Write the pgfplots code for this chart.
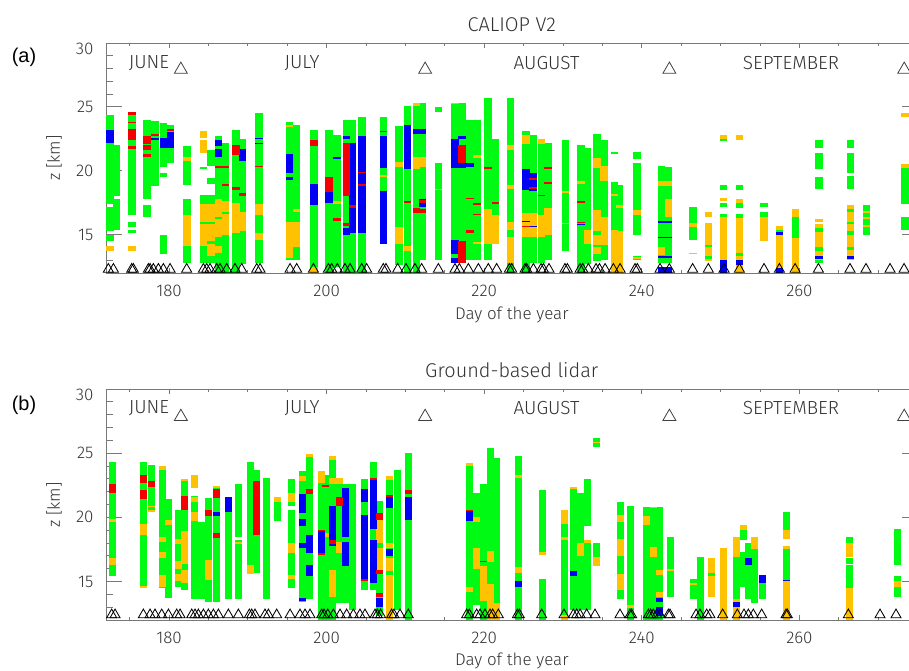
\documentclass[border=0pt]{standalone}
\usepackage{fontspec}
\setmainfont{Fira Sans Light}
\newfontfamily\arialfont{Liberation Sans}
\usepackage{pgfplots}
\usepackage{pgfplotstable}
\pgfplotsset{compat=1.18}
\definecolor{cg}{RGB}{0,250,20}
\definecolor{co}{RGB}{255,194,0}
\definecolor{cb}{RGB}{0,0,245}
\definecolor{cr}{RGB}{245,0,0}
\definecolor{axc}{RGB}{120,120,120}

% ---------------- panel (a) ----------------
\pgfplotstableread{
x y0 y1
172.5 17.4 24.4
172.5 15.3 17.2
172.5 14.5 15.0
173.3 18.0 22.0
173.3 15.4 17.8
175.3 16.5 24.6
175.3 15.6 16.0
175.3 15.1 15.4
177.2 17.8 24.0
177.2 16.4 17.3
178.2 18.8 23.9
179.3 20.3 23.7
179.3 19.5 19.8
179.3 13.5 15.0
180.2 20.6 23.6
182.3 18.9 21.9
182.3 12.8 17.8
184.4 20.1 20.3
184.4 12.8 18.1
185.3 20.4 21.6
185.3 19.0 19.4
185.3 12.8 18.1
186.3 12.0 22.7
187.2 12.0 22.2
188.5 12.0 23.2
189.3 12.7 22.5
191.4 12.8 24.5
195.3 13.0 23.8
196.2 13.0 23.6
198.4 12.5 23.2
200.3 12.0 23.2
201.3 12.5 22.8
202.5 12.0 24.0
203.3 12.0 24.0
204.5 12.0 24.2
207.2 14.3 24.2
209.2 12.6 23.5
210.3 12.0 25.1
211.4 12.0 25.3
212.2 13.0 25.3
214.2 24.6 25.0
214.2 13.0 20.6
216.3 12.8 25.3
217.2 12.8 25.3
218.2 13.0 24.0
219.1 13.0 24.0
220.5 13.0 25.7
221.4 14.3 22.5
223.3 12.0 25.7
225.3 12.0 23.1
226.2 12.8 22.8
227.3 12.8 22.5
228.1 13.0 22.2
230.3 13.7 22.4
232.3 12.0 22.0
233.1 12.7 21.8
234.3 12.9 22.9
235.2 13.0 22.4
236.5 12.8 19.1
236.5 21.3 21.5
237.2 12.8 18.9
239.4 15.0 20.6
239.4 20.9 21.5
239.4 13.0 13.3
242.5 12.8 20.4
243.4 12.8 20.3
246.5 14.6 17.2
250.4 22.3 22.5
250.4 18.5 18.9
250.4 16.4 16.6
250.4 17.2 17.5
252.4 18.5 18.9
252.4 17.1 17.5
252.4 16.3 16.6
255.5 17.2 17.5
255.5 16.4 16.8
262.5 21.8 22.4
262.5 20.1 21.4
262.5 18.6 19.5
266.5 21.8 22.4
266.5 19.8 21.4
266.5 18.6 19.6
268.5 15.0 17.3
273.4 17.4 20.2
273.4 15.4 16.4
}\agreen
\pgfplotstableread{
x y0 y1
172.5 13.7 14.1
175.3 13.7 14.1
182.3 20.8 21.1
182.3 14.1 16.5
184.4 22.6 23.1
184.4 21.4 22.4
184.4 14.1 17.4
185.3 13.3 17.4
186.3 14.8 17.8
186.3 13.6 14.1
187.2 15.0 17.6
188.5 15.1 17.5
189.3 15.3 16.8
191.4 16.5 17.4
191.4 14.6 15.1
195.3 23.4 23.6
195.3 13.2 16.0
196.2 14.0 16.0
196.2 16.8 17.0
198.4 12.0 12.5
200.3 17.8 17.9
201.3 17.4 17.6
207.2 19.5 19.7
207.2 15.4 16.2
209.2 20.3 20.7
209.2 14.3 15.6
210.3 13.7 14.1
211.4 25.1 25.3
211.4 20.1 21.1
212.2 20.3 21.1
214.2 18.5 18.6
216.3 25.2 25.3
219.1 21.0 21.2
219.1 14.3 14.4
220.5 14.3 17.0
221.4 14.3 16.5
223.3 21.6 22.0
223.3 18.6 18.9
223.3 15.4 16.0
223.3 12.8 14.8
225.3 22.1 22.8
225.3 14.8 16.7
226.2 14.8 16.7
227.3 22.1 22.5
227.3 14.8 16.5
228.1 15.0 17.1
230.3 18.25 18.4
230.3 15.8 15.95
232.3 19.0 19.2
233.1 14.3 15.4
234.3 20.2 21.0
234.3 13.5 16.9
235.2 19.2 20.4
235.2 14.2 16.4
236.5 18.0 18.2
236.5 12.0 15.4
237.2 17.1 17.3
237.2 12.0 15.3
239.4 16.5 16.9
239.4 13.1 13.25
242.5 18.8 19.2
242.5 13.4 14.0
243.4 18.8 19.2
243.4 16.4 17.8
246.5 15.6 15.9
246.5 13.5 13.6
248.5 16.4 16.8
248.5 12.9 15.9
250.4 22.5 22.8
250.4 17.6 17.9
250.4 12.0 16.4
252.4 22.4 22.8
252.4 17.5 17.8
252.4 12.0 16.3
255.5 14.5 16.4
257.5 12.0 15.7
259.5 12.0 17.0
262.5 16.0 16.2
262.5 12.8 15.8
266.5 13.0 17.3
268.5 16.7 16.85
268.5 16.2 16.35
268.5 15.6 15.75
273.4 24.2 24.5
273.4 20.2 20.5
}\aorange
\pgfplotstableread{
x y0 y1
184.4 15.8 16.0
184.4 13.3 13.6
185.3 15.8 16.0
185.3 14.3 14.5
185.3 12.8 13.2
186.3 16.2 16.4
187.2 16.6 16.8
234.3 15.0 15.3
234.3 14.0 14.2
248.5 14.0 14.2
248.5 13.1 13.3
252.4 13.3 13.6
257.5 15.2 15.4
259.5 14.7 16.4
262.5 15.2 15.5
262.5 13.7 14.0
262.5 12.8 13.0
266.5 16.8 17.0
266.5 15.8 16.0
266.5 15.0 15.3
266.5 13.8 14.0
}\agreentwo
\pgfplotstableread{
x y0 y1
172.5 22.2 23.2
178.2 22.4 22.6
179.3 21.8 22.6
180.2 21.8 23.0
186.3 21.9 22.4
186.3 21.1 21.7
189.3 20.8 21.7
191.4 22.5 22.6
191.4 22.1 22.2
195.3 19.8 21.3
195.3 19.3 19.5
198.4 17.3 19.0
200.3 17.5 18.3
201.3 20.9 21.1
202.5 22.5 22.7
202.5 15.0 15.5
203.3 15.1 22.2
204.5 15.1 22.7
207.2 20.2 22.7
207.2 14.3 18.4
210.3 20.1 23.6
211.4 22.9 23.3
212.2 22.9 23.3
212.2 17.2 17.8
216.3 20.2 22.5
216.3 13.5 14.6
216.3 12.8 13.2
217.2 20.2 20.6
217.2 22.5 22.7
218.2 20.3 20.6
225.3 18.5 20.1
225.3 16.0 16.1
226.2 18.4 19.8
226.2 15.6 15.7
232.3 15.75 15.85
242.5 15.9 16.05
242.5 14.7 14.85
242.5 13.2 13.35
242.5 12.0 12.5
243.4 15.9 16.05
243.4 14.7 14.85
243.4 13.2 13.35
243.4 12.0 12.5
250.4 12.0 13.0
252.4 12.6 13.0
257.5 15.0 15.2
257.5 12.0 12.4
262.5 13.1 13.3
266.5 13.1 13.3
}\ablue
\pgfplotstableread{
x y0 y1
175.3 24.4 24.6
175.3 23.7 23.8
175.3 22.4 23.3
175.3 21.7 21.9
177.2 22.1 22.7
177.2 21.6 22.0
177.2 21.1 21.3
178.2 22.7 22.9
180.2 23.1 23.3
186.3 20.2 20.4
187.2 20.2 20.4
187.2 18.8 19.0
188.5 21.2 22.0
188.5 18.5 18.7
189.3 18.05 18.25
191.4 20.3 20.4
198.4 21.9 22.4
200.3 18.3 19.5
201.3 16.1 16.3
202.5 18.0 22.2
202.5 15.7 15.9
203.3 17.1 17.3
204.5 19.8 19.9
204.5 18.8 19.0
207.2 23.0 23.1
210.3 17.45 17.6
211.4 16.7 17.1
212.2 17.45 17.7
212.2 16.7 17.0
217.2 20.6 22.0
217.2 12.8 14.5
218.2 17.8 17.9
218.2 15.1 15.4
219.1 17.35 17.5
219.1 16.5 16.6
220.5 20.1 20.3
221.4 17.4 17.55
225.3 15.6 15.7
226.2 19.3 19.4
226.2 18.6 18.7
227.3 18.0 18.1
228.1 20.15 20.3
228.1 18.95 19.1
232.3 17.5 17.65
232.3 15.9 16.0
}\ared
\pgfplotstableread{
x y
172.30 12.29
172.94 12.29
175.26 12.29
175.47 12.29
177.38 12.29
177.59 12.29
178.01 12.29
178.65 12.29
179.28 12.29
180.13 12.29
182.24 12.29
184.36 12.29
184.78 12.29
185.20 12.29
186.05 12.29
186.47 12.29
187.32 12.29
188.37 12.29
189.22 12.29
191.13 12.29
191.55 12.29
195.36 12.29
196.20 12.29
198.32 12.29
200.22 12.29
200.64 12.29
201.36 12.29
202.33 12.29
202.97 12.29
204.45 12.29
205.08 12.29
207.19 12.29
207.53 12.29
209.02 12.29
210.07 12.29
211.21 12.29
212.06 12.29
214.18 12.29
216.29 12.29
216.84 12.29
217.99 12.29
219.26 12.29
220.52 12.29
221.58 12.29
223.19 12.29
223.49 12.29
225.18 12.29
225.39 12.29
226.24 12.29
227.21 12.29
227.51 12.29
228.22 12.29
230.25 12.29
230.55 12.29
232.16 12.29
232.50 12.29
233.22 12.29
234.19 12.29
234.62 12.29
235.34 12.29
236.39 12.29
237.24 12.29
239.14 12.29
239.43 12.29
242.31 12.29
243.49 12.29
246.45 12.29
248.44 12.29
250.43 12.29
252.38 12.29
255.51 12.29
257.46 12.29
259.45 12.29
262.41 12.29
266.42 12.29
268.45 12.29
271.50 12.29
273.28 12.29
}\atri

% ---------------- panel (b) ----------------
\pgfplotstableread{
x y0 y1
172.85 15.4 24.3
176.8 14.5 24.3
177.8 20.6 24.1
179.15 14.5 24.0
179.95 13.7 21.4
181.2 14.6 20.6
182.0 14.3 23.0
183.2 13.6 21.7
184.15 13.6 19.6
185.0 13.4 21.5
186.0 13.4 22.4
187.5 13.6 21.6
188.8 18.5 22.6
188.8 13.6 18.2
190.3 15.6 24.3
191.1 15.7 23.7
192.35 13.6 23.1
193.8 19.7 21.2
195.5 20.9 23.0
195.5 14.5 20.6
196.9 13.4 23.6
197.8 13.6 24.9
199.3 12.0 23.6
199.9 12.0 23.3
200.8 12.0 24.8
201.6 13.3 23.1
202.4 13.3 22.6
203.3 12.8 22.6
204.8 14.3 23.0
206.0 14.3 24.3
206.7 12.3 21.3
208.0 12.8 23.2
209.0 12.8 23.7
210.4 12.0 25.0
218.15 12.0 24.2
219.0 13.2 21.9
219.85 12.0 22.6
220.75 13.3 25.4
221.6 12.0 24.6
224.3 12.0 24.8
227.4 17.2 22.1
227.4 12.0 15.2
230.2 12.4 19.5
231.3 12.8 22.4
232.2 12.8 21.9
233.1 19.3 23.0
233.1 12.8 18.2
234.2 25.45 26.2
234.2 16.9 18.0
237.25 13.6 21.2
238.6 12.0 20.9
240.6 12.0 20.8
241.5 12.0 20.8
242.3 12.0 20.8
243.6 13.8 18.5
246.5 13.6 15.2
247.4 12.0 16.9
252.9 18.2 19.1
252.9 14.6 17.3
253.5 13.6 18.0
254.3 13.3 17.5
255.3 13.6 14.9
258.4 19.0 20.4
266.3 18.0 18.5
266.3 16.4 16.8
266.3 14.5 16.3
272.4 16.3 19.1
272.4 15.0 15.4
272.4 13.8 14.6
}\bgreen
\pgfplotstableread{
x y0 y1
172.85 19.6 19.9
172.85 16.3 16.8
176.8 18.6 19.5
176.8 14.5 14.65
177.8 20.4 20.6
177.8 20.8 20.9
179.15 23.7 24.0
179.15 18.1 18.5
179.15 16.8 17.3
179.15 14.6 15.5
179.95 19.4 19.8
181.2 17.9 18.3
181.2 16.0 16.6
181.2 15.0 15.6
182.0 22.8 22.95
182.0 16.4 18.9
182.0 14.9 15.9
183.2 22.3 23.3
183.2 21.2 21.6
183.2 19.7 20.4
185.0 15.1 16.7
186.0 22.3 22.45
188.8 17.9 18.1
190.3 15.6 16.3
193.8 21.2 21.6
195.5 21.2 21.9
195.5 17.2 18.0
195.5 15.2 15.5
196.9 22.8 23.2
197.8 24.7 24.9
199.3 22.7 23.6
199.9 18.5 18.75
200.8 24.5 24.8
200.8 22.6 23.1
200.8 13.8 15.9
201.6 22.6 23.1
201.6 17.2 18.1
206.7 18.0 19.8
206.7 15.9 17.6
208.0 22.9 23.2
208.0 17.6 18.0
208.0 15.8 16.8
208.0 12.0 15.5
218.15 24.0 24.2
218.15 14.2 14.6
219.0 16.0 17.6
219.0 19.6 20.0
219.85 13.5 16.2
220.75 12.0 14.8
220.75 16.5 17.4
221.6 12.0 13.3
224.3 23.1 23.3
224.3 15.7 16.1
227.4 17.1 17.3
230.2 19.5 20.6
230.2 18.2 18.5
230.2 12.0 12.4
231.3 22.2 22.4
232.2 17.0 18.0
233.1 18.0 18.2
234.2 25.8 25.9
234.2 16.2 16.9
237.25 19.6 20.2
237.25 17.0 18.3
237.25 14.3 15.6
238.6 12.9 13.2
240.6 19.4 20.1
241.5 20.7 20.8
241.5 16.9 17.7
242.3 15.5 15.9
242.3 13.8 14.2
243.6 15.8 16.0
246.5 14.7 14.9
248.8 13.8 16.8
250.4 12.0 17.6
252.0 12.0 18.5
252.9 19.0 19.4
254.3 17.5 18.5
258.4 18.3 19.0
258.4 12.0 17.8
266.3 16.9 18.0
266.3 12.0 14.5
272.4 14.6 15.0
}\borange
\pgfplotstableread{
x y0 y1
248.8 15.4 15.7
252.0 13.6 16.9
258.4 15.1 17.5
}\bgreentwo
\pgfplotstableread{
x y0 y1
186.0 20.1 20.4
187.5 20.4 21.6
196.9 20.3 21.8
196.9 19.3 19.9
196.9 17.6 18.0
196.9 13.5 13.7
197.8 17.2 18.6
197.8 15.4 16.3
199.3 17.2 18.9
200.8 17.8 20.9
202.4 18.5 22.3
202.4 16.2 18.1
204.8 21.2 22.2
204.8 15.1 20.2
206.0 19.1 22.9
206.0 14.9 18.2
206.7 13.0 13.7
208.0 20.7 21.6
208.0 17.0 17.5
210.4 19.8 21.6
218.15 19.7 20.5
224.3 14.6 15.0
231.3 15.4 15.8
242.3 13.4 13.7
242.3 12.3 13.0
252.0 13.0 13.4
253.5 16.3 16.8
255.3 14.9 15.5
258.4 15.05 15.15
}\bblue
\pgfplotstableread{
x y0 y1
172.85 21.9 22.6
176.8 22.7 23.3
176.8 21.4 22.1
177.8 22.4 22.8
182.0 20.6 21.7
185.0 20.1 20.6
186.0 21.5 22.2
186.0 18.4 18.8
191.1 18.6 22.8
197.8 21.8 22.2
199.3 18.9 19.0
199.3 17.1 17.2
199.9 22.4 22.5
200.8 17.9 18.2
201.6 20.9 21.6
204.8 15.0 15.2
206.0 22.9 23.1
206.7 19.8 20.3
206.7 15.6 15.9
206.7 13.8 14.1
208.0 21.6 21.75
210.4 21.8 22.1
218.15 20.5 20.6
219.85 16.5 16.6
}\bred
\pgfplotstableread{
x y
172.72 12.4
173.15 12.4
176.74 12.4
177.59 12.4
178.22 12.4
179.07 12.4
179.92 12.4
180.97 12.4
181.40 12.4
182.88 12.4
183.30 12.4
183.72 12.4
184.36 12.4
184.99 12.4
185.63 12.4
186.26 12.4
187.53 12.4
188.80 12.4
190.19 12.4
190.49 12.4
190.91 12.4
192.18 12.4
192.61 12.4
193.66 12.4
195.36 12.4
196.62 12.4
197.26 12.4
197.89 12.4
199.37 12.4
199.67 12.4
200.14 12.4
200.85 12.4
201.70 12.4
202.54 12.4
203.39 12.4
204.23 12.4
204.87 12.4
206.14 12.4
206.43 12.4
206.85 12.4
208.25 12.4
208.54 12.4
209.31 12.4
210.36 12.4
217.77 12.4
218.11 12.4
219.04 12.4
219.47 12.4
220.10 12.4
220.74 12.4
221.07 12.4
221.79 12.4
224.21 12.4
224.46 12.4
227.29 12.4
230.13 12.4
231.31 12.4
231.73 12.4
232.16 12.4
233.00 12.4
234.06 12.4
237.23 12.4
238.50 12.4
238.71 12.4
240.83 12.4
241.12 12.4
241.46 12.4
241.89 12.4
242.31 12.4
243.37 12.4
243.58 12.4
246.88 12.4
247.38 12.4
248.23 12.4
248.65 12.4
250.26 12.4
252.12 12.4
252.97 12.4
253.52 12.4
254.15 12.4
255.21 12.4
258.30 12.4
258.47 12.4
266.21 12.4
270.23 12.4
272.26 12.4
}\btri

\pgfplotsset{
  seg/.style={line width=7.4bp, quiver={u=0, v=\thisrow{y1}-\thisrow{y0}}},
  segb/.style={line width=7.0bp, quiver={u=0, v=\thisrow{y1}-\thisrow{y0}}},
  frame/.style={
    scale only axis, width=811.6bp,
    xmin=172, xmax=275, ymin=12, ymax=30,
  },
  tickax/.style={
    frame, axis line style={draw=none},
    xtick={180,200,220,240,260}, minor xtick={175,185,190,195,205,210,215,225,230,235,245,250,255,265,270,275},
    xticklabels={}, ytick=\empty,
    tick align=inside, major tick length=5bp, minor tick length=3bp,
    tick style={axc, line width=0.8bp},
  },
  mainax/.style={
    frame,
    axis line style={axc, line width=0.8bp},
    xtick={180,200,220,240,260},
    ytick={15,20,25},
    extra y ticks={30},
    extra y tick style={yticklabel style={yshift=-6bp}},
    minor ytick={13,14,16,17,18,19,21,22,23,24,26,27,28,29},
    tick align=inside, major tick length=16bp, minor tick length=7bp,
    tick style={axc, line width=0.8bp},
    every x tick/.style={draw=none},
    /pgf/number format/assume math mode=true,
    ticklabel style={font=\fontsize{17}{17}\selectfont, text=black!80},
    xticklabel style={yshift=-9bp},
    yticklabel style={xshift=-9bp},
  },
  monthtri/.style={only marks, mark=triangle, mark size=7.5bp, mark options={draw=black!75, line width=0.8bp, fill=none}},
  bottri/.style={only marks, mark=triangle, mark size=5.8bp, mark options={draw=black, line width=0.85bp, fill=none}},
}
\newcommand{\mlab}{\fontsize{19}{19}\selectfont\color{black!80}}
\newcommand{\tlab}{\fontsize{20}{20}\selectfont\color{black!80}}
\newcommand{\alab}{\fontsize{17}{17}\selectfont\color{black!80}}

\begin{document}
\begin{tikzpicture}
% ===== panel (a) =====
\begin{axis}[tickax, at={(106bp,398bp)}, anchor=south west, height=230bp]
\end{axis}
\begin{axis}[mainax, at={(106bp,398bp)}, anchor=south west, height=230bp]
\addplot[seg, draw=cg] table[x=x, y=y0] {\agreen};
\addplot[seg, draw=co] table[x=x, y=y0] {\aorange};
\addplot[seg, draw=cg] table[x=x, y=y0] {\agreentwo};
\addplot[seg, draw=cb] table[x=x, y=y0] {\ablue};
\addplot[seg, draw=cr] table[x=x, y=y0] {\ared};
\addplot[bottri] table[x=x, y=y] {\atri};
\addplot[monthtri] coordinates {(181.5,27.92) (212.5,27.92) (243.5,27.92) (273.3,27.92)};
\node[font=\mlab] at (axis cs:177.46,28.46) {JUNE};
\node[font=\mlab] at (axis cs:196.88,28.46) {JULY};
\node[font=\mlab] at (axis cs:227.91,28.46) {AUGUST};
\node[font=\mlab] at (axis cs:258.93,28.46) {SEPTEMBER};
\end{axis}
\node[anchor=base, font=\tlab] at (511.8bp, 639bp) {CALIOP V2};
\node[font=\alab] at (511.8bp, 356bp) {Day of the year};
\node[rotate=90, font=\alab] at (54bp, 513bp) {z [km]};
\node[font=\arialfont\fontsize{20}{20}\selectfont] at (24bp, 614bp) {(a)};

% ===== panel (b) =====
\begin{axis}[tickax, at={(106bp,51bp)}, anchor=south west, height=231bp]
\end{axis}
\begin{axis}[mainax, at={(106bp,51bp)}, anchor=south west, height=231bp]
\addplot[segb, draw=cg] table[x=x, y=y0] {\bgreen};
\addplot[segb, draw=co] table[x=x, y=y0] {\borange};
\addplot[segb, draw=cg] table[x=x, y=y0] {\bgreentwo};
\addplot[segb, draw=cb] table[x=x, y=y0] {\bblue};
\addplot[segb, draw=cr] table[x=x, y=y0] {\bred};
\addplot[bottri] table[x=x, y=y] {\btri};
\addplot[monthtri] coordinates {(181.5,27.84) (212.5,27.84) (243.5,27.84) (273.3,27.84)};
\node[font=\mlab] at (axis cs:177.46,28.5) {JUNE};
\node[font=\mlab] at (axis cs:196.88,28.5) {JULY};
\node[font=\mlab] at (axis cs:227.91,28.5) {AUGUST};
\node[font=\mlab] at (axis cs:258.93,28.5) {SEPTEMBER};
\end{axis}
\node[anchor=base, font=\tlab] at (511.8bp, 293bp) {Ground-based lidar};
\node[font=\alab] at (511.8bp, 10bp) {Day of the year};
\node[rotate=90, font=\alab] at (54bp, 166bp) {z [km]};
\node[font=\arialfont\fontsize{20}{20}\selectfont] at (24bp, 266bp) {(b)};

\pgfresetboundingbox
\path[use as bounding box] (0,0) rectangle (909bp,671bp);
\end{tikzpicture}
\end{document}
